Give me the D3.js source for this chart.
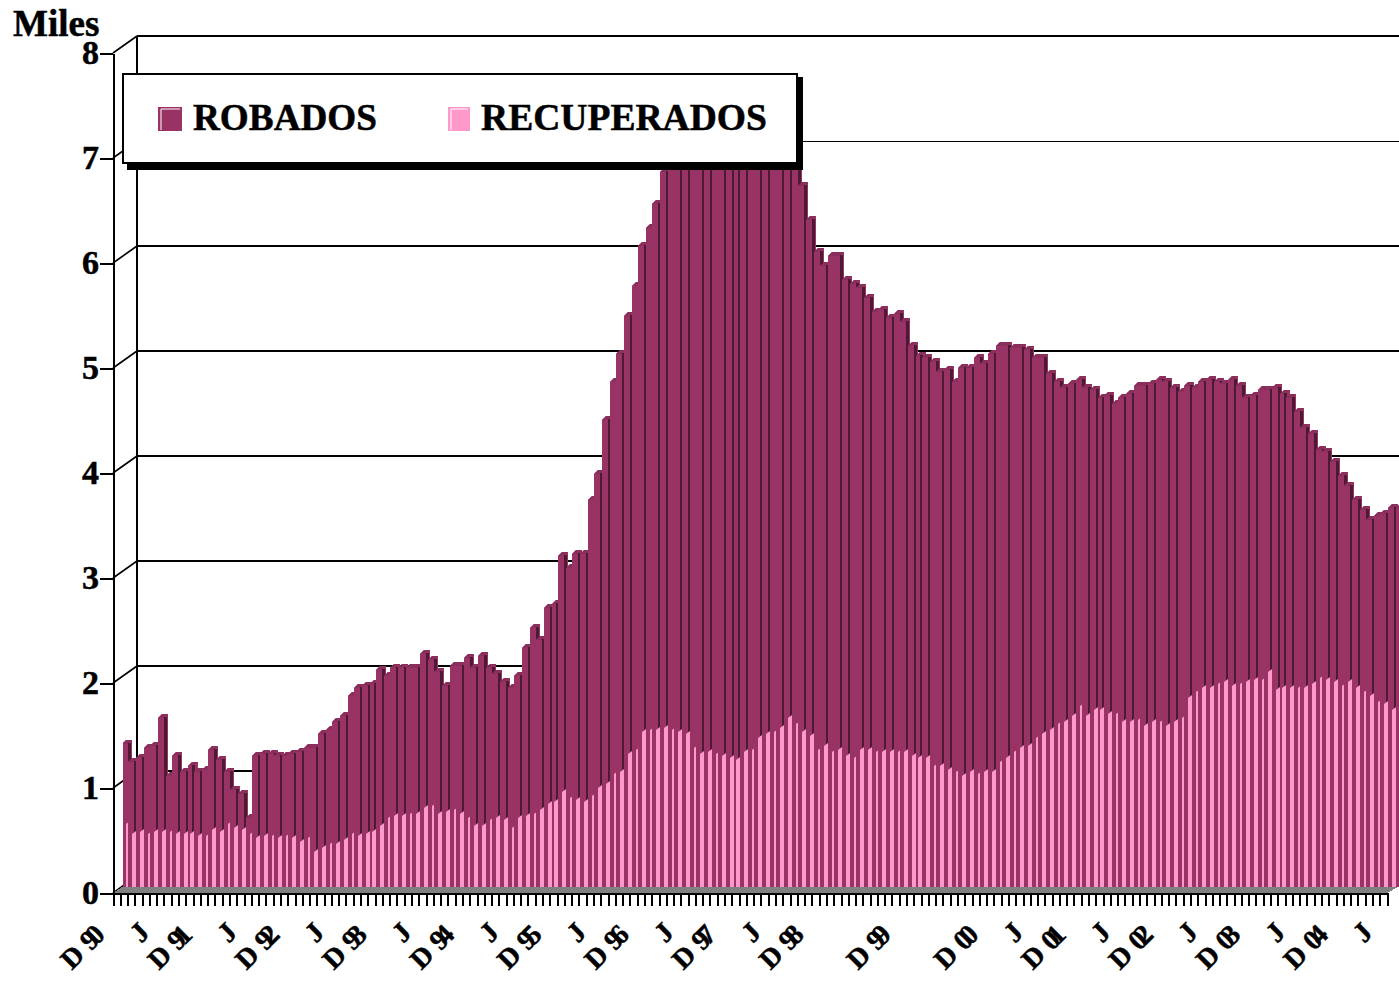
<!DOCTYPE html>
<html><head><meta charset="utf-8">
<script src="https://d3js.org/d3.v7.min.js"></script>
<style>html,body{margin:0;padding:0;background:#fff;overflow:hidden}svg{display:block}text{font-family:"Liberation Serif",serif;font-weight:bold;fill:#000;stroke:#000;stroke-width:.5px}</style>
</head><body><svg id="c" width="1399" height="983"></svg>
<script>
const robados=[1.37,1.20,1.24,1.34,1.36,1.62,1.07,1.26,1.10,1.16,1.11,1.13,1.31,1.22,1.11,0.94,0.90,0.66,1.25,1.27,1.28,1.25,1.26,1.27,1.30,1.34,1.34,1.47,1.51,1.58,
1.64,1.83,1.91,1.93,1.94,2.08,2.02,2.10,2.10,2.10,2.10,2.23,2.18,2.05,1.93,2.11,2.12,2.19,2.10,2.21,2.10,2.04,1.97,1.90,2.02,2.29,2.47,2.37,2.67,2.71,
3.16,3.04,3.18,3.19,3.69,3.94,4.45,4.81,5.09,5.45,5.73,6.12,6.28,6.52,6.81,7.0,7.15,7.3,7.35,7.4,7.4,7.35,7.35,7.3,7.3,7.25,7.3,7.3,7.25,7.2,
7.2,7.15,7.0,6.69,6.37,6.05,5.92,6.02,6.02,5.79,5.75,5.72,5.62,5.49,5.50,5.43,5.46,5.40,5.16,5.07,5.05,5.01,4.92,4.93,4.81,4.95,4.95,5.05,5.00,5.08,
5.16,5.17,5.15,5.14,5.13,5.05,5.05,4.90,4.82,4.77,4.80,4.83,4.76,4.74,4.67,4.69,4.61,4.67,4.71,4.78,4.78,4.80,4.83,4.81,4.77,4.73,4.78,4.77,4.81,4.83,
4.81,4.80,4.83,4.78,4.67,4.69,4.74,4.74,4.76,4.71,4.67,4.53,4.38,4.32,4.17,4.15,4.05,3.92,3.83,3.70,3.60,3.50,3.54,3.56,3.62,3.62];
const recuperados=[0.61,0.52,0.54,0.52,0.54,0.53,0.54,0.52,0.51,0.51,0.49,0.50,0.56,0.53,0.61,0.58,0.56,0.52,0.48,0.50,0.49,0.48,0.49,0.47,0.43,0.47,0.35,0.38,0.42,0.42,
0.46,0.51,0.49,0.51,0.54,0.60,0.66,0.69,0.68,0.70,0.70,0.77,0.78,0.70,0.72,0.74,0.70,0.67,0.60,0.60,0.64,0.67,0.65,0.58,0.66,0.69,0.70,0.74,0.80,0.81,
0.91,0.86,0.83,0.81,0.88,0.95,0.99,1.08,1.11,1.28,1.32,1.48,1.50,1.51,1.53,1.51,1.49,1.46,1.34,1.27,1.29,1.28,1.25,1.23,1.21,1.29,1.32,1.43,1.46,1.48,
1.53,1.61,1.57,1.48,1.44,1.32,1.35,1.30,1.31,1.26,1.24,1.32,1.31,1.30,1.30,1.30,1.29,1.30,1.26,1.23,1.24,1.17,1.17,1.12,1.10,1.07,1.10,1.09,1.10,1.10,
1.20,1.24,1.29,1.34,1.35,1.43,1.47,1.51,1.57,1.58,1.64,1.74,1.64,1.69,1.69,1.65,1.66,1.58,1.59,1.60,1.54,1.59,1.59,1.54,1.59,1.61,1.81,1.87,1.90,1.90,
1.95,1.96,1.93,1.94,1.96,1.99,1.99,2.05,1.88,1.90,1.90,1.90,1.91,1.94,2.00,1.99,1.96,1.93,1.97,1.90,1.86,1.82,1.77,1.76,1.70,1.72];
const months=d3.timeMonth.range(new Date(1990,11,1),new Date(2005,7,1));
const hiddenJuneYears=[1999,2000];
const yTicks=[0,1,2,3,4,5,6,7,8];
const seriesNames=["ROBADOS","RECUPERADOS"];
const colors={rob:"#993366",rec:"#ff99cc",side:"#4d1a33",topFace:"#8a2e5c",floor:"#808080"};

const svg=d3.select("#c");
const x=d3.scalePoint().domain(months).range([113,1387]);
const y=d3.scaleLinear().domain([0,8]).range([893,53]);
const depth={x:24,y:17}, barDepth={x:9,y:6};
const snap=v=>2*Math.round(v/2);
const bar0=y(0)-barDepth.y;
const yBar=v=>y(v)-barDepth.y;

// back wall
const wall=svg.append("g").attr("stroke","#000").attr("fill","none");
wall.selectAll("line.g").data(yTicks.slice(1)).join("line").attr("class","g")
  .attr("x1",x.range()[0]+depth.x).attr("x2",1420)
  .attr("y1",d=>y(d)-depth.y).attr("y2",d=>y(d)-depth.y)
  .attr("stroke-width",d=>d===7?1:2).attr("shape-rendering","crispEdges");
wall.append("line").attr("x1",x.range()[0]+depth.x).attr("x2",x.range()[0]+depth.x)
  .attr("y1",y(8)-depth.y).attr("y2",y(0)-depth.y).attr("stroke-width",2).attr("shape-rendering","crispEdges");
wall.selectAll("line.d").data(yTicks).join("line").attr("class","d")
  .attr("x1",x.range()[0]).attr("x2",x.range()[0]+depth.x)
  .attr("y1",d=>y(d)).attr("y2",d=>y(d)-depth.y).attr("stroke-width",1.6);

// floor
svg.append("path").attr("fill",colors.floor).attr("shape-rendering","crispEdges")
  .attr("d",d3.line()([[x.range()[0],y(0)],[x.range()[1],y(0)],[x.range()[1]+11,bar0],[x.range()[0]+9,bar0]])+"Z");

// bars
svg.append("clipPath").attr("id","cb").append("rect").attr("x",123).attr("y",0).attr("width",1300).attr("height",983);
const bars=svg.append("g").attr("clip-path","url(#cb)");
months.forEach((m,i)=>{
  const L=snap(x(m)+8.5), R=snap(x(m)+8.5+5.9);
  const yt=snap(yBar(robados[i])+1), yp=snap(yBar(recuperados[i])+1);
  const g=bars.append("g");
  g.append("path").attr("fill",colors.rob)
    .attr("d",d3.line()([[L,yt],[L+4,yt-4],[L+10,yt-4],[L+10,bar0],[L,bar0]])+"Z");
  g.append("path").attr("fill",colors.topFace)
    .attr("d",d3.line()([[L,yt],[L+4,yt-4],[L+10,yt-4],[L+6,yt]])+"Z");
  g.append("rect").attr("fill",colors.side).attr("shape-rendering","crispEdges")
    .attr("x",R).attr("width",3).attr("y",yt-1).attr("height",yp-yt+1);
  g.append("path").attr("fill",colors.rec)
    .attr("d",d3.line()([[R-2,yp],[R+2,yp-3],[R+2,bar0],[R-2,bar0]])+"Z");
});

// axes
const yAxis=d3.axisLeft(y).tickValues(yTicks).tickSize(13).tickSizeOuter(0).tickPadding(1).tickFormat(d3.format("d"));
const gy=svg.append("g").attr("transform",`translate(${x.range()[0]},0)`).call(yAxis);
gy.selectAll("line,path").attr("stroke","#000").attr("stroke-width",2).attr("shape-rendering","crispEdges");
gy.selectAll("text").attr("font-size",34).attr("font-family",'"Liberation Serif",serif').attr("dy","0.32em");

const isLabelled=d=>d.getMonth()===11||(d.getMonth()===5&&!hiddenJuneYears.includes(d.getFullYear()));
const xAxis=d3.axisBottom(x).tickSize(13).tickSizeOuter(0).tickFormat("");
const gx=svg.append("g").attr("transform",`translate(0,${y(0)})`).call(xAxis);
gx.selectAll("line,path").attr("stroke","#000").attr("stroke-width",2).attr("shape-rendering","crispEdges");
gx.selectAll(".tick").filter(isLabelled).each(function(d){
  const t=d3.select(this).select("text").attr("text-anchor","end").attr("font-size",28).attr("y",0).attr("dy",0).text(null)
    .attr("font-family",'"Liberation Serif",serif');
  if(d.getMonth()===5){t.attr("transform","translate(-6,41) rotate(-45)").text("J");return;}
  t.attr("transform","translate(-7,43) rotate(-45)");
  const yy=d3.format("02d")(d.getFullYear()%100);
  t.append("tspan").text("D ");
  t.append("tspan").text(yy[0]);
  t.append("tspan").text(yy[1]).attr("dx",-6);
});

// titles
svg.append("text").attr("x",13).attr("y",36).attr("font-size",37).text("Miles");

// legend
const lg=svg.append("g");
lg.append("rect").attr("x",127).attr("y",77).attr("width",676).attr("height",93).attr("fill","#000");
lg.append("rect").attr("x",123).attr("y",74).attr("width",674).attr("height",89).attr("fill","#fff").attr("stroke","#000").attr("stroke-width",2).attr("shape-rendering","crispEdges");
const lx=d3.scaleOrdinal().domain(seriesNames).range([158,448]);
const lfill=d3.scaleOrdinal().domain(seriesNames).range([colors.rob,colors.rec]);
const li=lg.selectAll("g").data(seriesNames).join("g").attr("transform",d=>`translate(${lx(d)},107)`);
li.append("rect").attr("width",d=>d===seriesNames[0]?24:22).attr("height",24).attr("fill",d=>lfill(d));
li.append("path").attr("d",d=>d===seriesNames[0]?"M3,23V2H22":"M3,23V2H20").attr("fill","none").attr("stroke","#fff").attr("stroke-width",1);
li.append("text").attr("x",d=>d===seriesNames[0]?35:33).attr("y",23).attr("font-size",37.5).attr("textLength",d=>d===seriesNames[0]?184:286).attr("lengthAdjust","spacingAndGlyphs").text(d=>d);
</script></body></html>
